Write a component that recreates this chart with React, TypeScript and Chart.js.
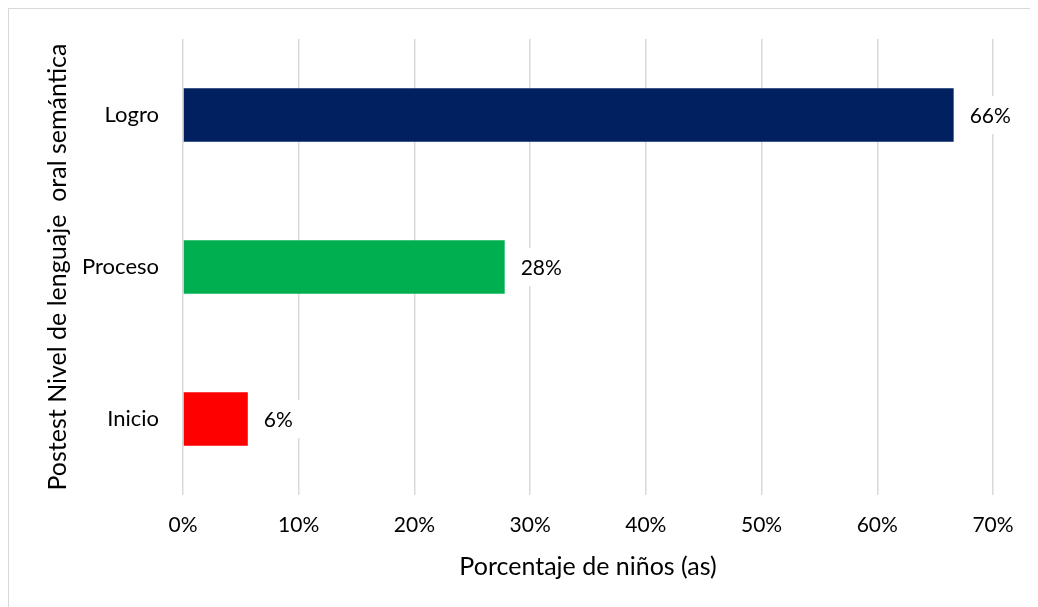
import React, { useEffect, useRef } from "react";
import { Chart, registerables } from "chart.js";

Chart.register(...registerables);

const categories = ["Logro", "Proceso", "Inicio"];
const values = [66.6, 27.8, 5.6];
const valueLabels = ["66%", "28%", "6%"];
const barColors = ["#002060", "#00B050", "#FF0000"];
const xTicks = [0, 10, 20, 30, 40, 50, 60, 70];
const xTitle = "Porcentaje de niños (as)";
const yTitle = "Postest Nivel de lenguaje  oral semántica";

const FONT = "Lato, 'Open Sans', sans-serif";

const labelPlugin = {
  id: "barValueLabels",
  afterDatasetsDraw(chart: any) {
    const { ctx } = chart;
    const meta = chart.getDatasetMeta(0);
    ctx.save();
    ctx.font = `21px ${FONT}`;
    ctx.textBaseline = "middle";
    ctx.textAlign = "left";
    meta.data.forEach((bar: any, i: number) => {
      const text = valueLabels[i];
      const w = ctx.measureText(text).width;
      const x = bar.x;
      const y = bar.y;
      ctx.fillStyle = "#ffffff";
      ctx.fillRect(x + 8, y - 19, w + 16, 38);
      ctx.fillStyle = "#000000";
      ctx.fillText(text, x + 16, y + 1);
    });
    ctx.restore();
  },
};

export default function App() {
  const ref = useRef<HTMLCanvasElement | null>(null);

  useEffect(() => {
    if (!ref.current) return;
    const chart = new Chart(ref.current, {
      type: "bar",
      data: {
        labels: categories,
        datasets: [
          {
            data: values,
            backgroundColor: barColors,
            borderWidth: 0,
            categoryPercentage: 1,
            barPercentage: 0.351,
          },
        ],
      },
      options: {
        indexAxis: "y",
        animation: false,
        responsive: false,
        devicePixelRatio: 1,
        layout: { padding: { top: 30, right: 45, left: 0, bottom: 0 } },
        plugins: {
          legend: { display: false },
          tooltip: { enabled: false },
        },
        scales: {
          x: {
            min: 0,
            max: 70,
            afterBuildTicks(scale: any) {
              scale.ticks = xTicks.map((v) => ({ value: v }));
            },
            afterFit(scale: any) {
              scale.height = 112;
              scale.paddingLeft = 0;
              scale.paddingRight = 0;
            },
            grid: {
              color: "#d9d9d9",
              lineWidth: 1.5,
              drawTicks: false,
            },
            border: { display: false },
            ticks: {
              padding: 18,
              color: "#000000",
              font: { family: FONT, size: 21 },
              callback: (v: any) => `${v}%`,
            },
            title: {
              display: true,
              text: xTitle,
              color: "#000000",
              font: { family: FONT, size: 25 },
              padding: { top: 0, bottom: 25 },
            },
          },
          y: {
            afterFit(scale: any) {
              scale.width = 174;
              scale.paddingTop = 0;
              scale.paddingBottom = 0;
            },
            grid: { display: false, drawTicks: false },
            border: { display: false },
            ticks: {
              padding: 24,
              color: "#000000",
              font: { family: FONT, size: 22 },
            },
            title: {
              display: true,
              text: yTitle,
              color: "#000000",
              font: { family: FONT, size: 25 },
              padding: { top: 33.5, bottom: 0 },
            },
          },
        },
      },
      plugins: [labelPlugin],
    });
    return () => chart.destroy();
  }, []);

  return (
    <div
      style={{
        width: 1029,
        height: 598,
        borderTop: "1px solid #d9d9d9",
        borderLeft: "1px solid #d9d9d9",
        background: "#ffffff",
      }}
    >
      <canvas ref={ref} width={1029} height={598} style={{ display: "block" }} />
    </div>
  );
}
